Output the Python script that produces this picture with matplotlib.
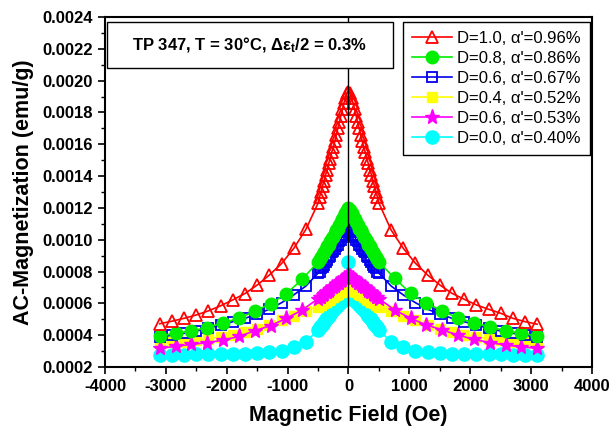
import matplotlib
matplotlib.use("Agg")
import matplotlib.pyplot as plt
from matplotlib.patches import Rectangle

plt.rcParams['font.family'] = ['Liberation Sans', 'DejaVu Sans']
plt.rcParams['mathtext.fontset'] = 'custom'
plt.rcParams['mathtext.rm'] = 'Liberation Sans:bold'
plt.rcParams['mathtext.it'] = 'Liberation Sans:bold'
plt.rcParams['mathtext.bf'] = 'Liberation Sans:bold'

# ---------------- data ----------------
X_200_L = [-3100, -2900, -2700, -2500, -2300, -2100, -1900, -1700, -1500, -1300, -1100, -900, -700]
X_200_R = [700, 900, 1100, 1300, 1500, 1700, 1900, 2100, 2300, 2500, 2700, 2900, 3100]
X_260_L = [-3100, -2840, -2580, -2320, -2060, -1800, -1540, -1280, -1020, -760]
X_260_R = [760, 1020, 1280, 1540, 1800, 2060, 2320, 2580, 2840, 3100]
X_DENSE = [-500, -475, -450, -425, -400, -375, -350, -325, -300, -275, -250, -225, -200,
           -175, -150, -125, -100, -75, -50, -25, 0, 25, 50, 75, 100, 125, 150, 175, 200,
           225, 250, 275, 300, 325, 350, 375, 400, 425, 450, 475, 500]

red_sparse_L = [0.000472, 0.000488, 0.000506, 0.000527, 0.000553, 0.000585, 0.000622,
                0.000662, 0.000715, 0.000778, 0.000850, 0.000945, 0.001065]
red_dense = [0.00123, 0.00127, 0.00130, 0.00134, 0.00137, 0.00141, 0.00144, 0.00148, 0.00151,
             0.00155, 0.00158, 0.00162, 0.00166, 0.00170, 0.00174, 0.00178, 0.00182, 0.00186,
             0.00189, 0.00192, 0.00193, 0.00192, 0.00189, 0.00186, 0.00182, 0.00178, 0.00174,
             0.00170, 0.00166, 0.00162, 0.00158, 0.00155, 0.00151, 0.00148, 0.00144, 0.00141,
             0.00137, 0.00134, 0.00130, 0.00127, 0.00123]
red_sparse_R = [0.001061, 0.000946, 0.000852, 0.000778, 0.000716, 0.000663, 0.000626,
                0.000590, 0.000563, 0.000538, 0.000506, 0.000485, 0.000469]

green_sparse_L = [0.000395, 0.000412, 0.000427, 0.000448, 0.000477, 0.000506, 0.000551,
                  0.000598, 0.000661, 0.000752]
green_dense = [0.00086, 0.00088, 0.00089, 0.00091, 0.00092, 0.00094, 0.00096, 0.00097, 0.00099,
               0.00101, 0.00102, 0.00104, 0.00106, 0.00107, 0.00109, 0.00111, 0.00113, 0.00115,
               0.00117, 0.00119, 0.00120, 0.00119, 0.00117, 0.00115, 0.00113, 0.00111, 0.00109,
               0.00107, 0.00106, 0.00104, 0.00102, 0.00101, 0.00099, 0.00097, 0.00096, 0.00094,
               0.00092, 0.00091, 0.00089, 0.00088, 0.00086]
green_sparse_R = [0.000757, 0.000663, 0.000600, 0.000554, 0.000506, 0.000479, 0.000450,
                  0.000429, 0.000412, 0.000395]

blue_sparse_L = [0.000387, 0.000400, 0.000412, 0.000426, 0.000443, 0.000464, 0.000485,
                 0.000506, 0.000533, 0.000563, 0.000604, 0.000653, 0.000709]
blue_dense = [0.00079, 0.00080, 0.00082, 0.00083, 0.00084, 0.00086, 0.00087, 0.00089, 0.00090,
              0.00092, 0.00093, 0.00094, 0.00096, 0.00097, 0.00099, 0.00100, 0.00102, 0.00103,
              0.00105, 0.00106, 0.00107, 0.00106, 0.00105, 0.00103, 0.00102, 0.00100, 0.00099,
              0.00097, 0.00096, 0.00094, 0.00093, 0.00092, 0.00090, 0.00089, 0.00087, 0.00086,
              0.00084, 0.00083, 0.00082, 0.00080, 0.00079]
blue_sparse_R = [0.000709, 0.000653, 0.000604, 0.000563, 0.000533, 0.000506, 0.000485,
                 0.000464, 0.000443, 0.000426, 0.000412, 0.000400, 0.000387]

yellow_sparse_L = [0.000350, 0.000355, 0.000360, 0.000368, 0.000378, 0.000390, 0.000404,
                   0.000420, 0.000440, 0.000465, 0.000493, 0.000523, 0.000553]
yellow_dense = [0.00058, 0.00059, 0.00059, 0.00060, 0.00061, 0.00061, 0.00062, 0.00062, 0.00063,
                0.00064, 0.00064, 0.00065, 0.00065, 0.00066, 0.00067, 0.00067, 0.00068, 0.00068,
                0.00069, 0.00070, 0.00070, 0.00070, 0.00069, 0.00068, 0.00068, 0.00067, 0.00067,
                0.00066, 0.00065, 0.00065, 0.00064, 0.00064, 0.00063, 0.00062, 0.00062, 0.00061,
                0.00061, 0.00060, 0.00059, 0.00059, 0.00058]
yellow_sparse_R = [0.000553, 0.000523, 0.000493, 0.000465, 0.000440, 0.000420, 0.000404,
                   0.000390, 0.000378, 0.000368, 0.000360, 0.000355, 0.000350]

magenta_sparse_L = [0.000317, 0.000330, 0.000342, 0.000353, 0.000369, 0.000392, 0.000428,
                    0.000460, 0.000506, 0.000558]
magenta_dense = [0.00063, 0.00064, 0.00064, 0.00065, 0.00066, 0.00067, 0.00067, 0.00068, 0.00069,
                 0.00070, 0.00070, 0.00071, 0.00072, 0.00073, 0.00073, 0.00074, 0.00075, 0.00076,
                 0.00076, 0.00077, 0.00078, 0.00077, 0.00076, 0.00076, 0.00075, 0.00074, 0.00073,
                 0.00073, 0.00072, 0.00071, 0.00070, 0.00070, 0.00069, 0.00068, 0.00067, 0.00067,
                 0.00066, 0.00065, 0.00064, 0.00064, 0.00063]
magenta_sparse_R = [0.000558, 0.000506, 0.000464, 0.000433, 0.000400, 0.000374, 0.000353,
                    0.000338, 0.000327, 0.000317]

cyan_sparse_L = [0.000278, 0.000278, 0.000278, 0.000279, 0.000280, 0.000280, 0.000281,
                 0.000283, 0.000287, 0.000293, 0.000303, 0.000325, 0.000360]
cyan_dense = [0.00043, 0.00045, 0.00046, 0.00047, 0.000485, 0.00050, 0.00051, 0.00052, 0.000535,
              0.00055, 0.00056, 0.00057, 0.00058, 0.00059, 0.00060, 0.00061, 0.00062, 0.000625,
              0.00063, 0.00065, 0.00086, 0.00065, 0.00063, 0.000625, 0.00062, 0.00061, 0.00060,
              0.00059, 0.00058, 0.00057, 0.00056, 0.00055, 0.000535, 0.00052, 0.00051, 0.00050,
              0.000485, 0.00047, 0.00046, 0.00045, 0.00043]
cyan_sparse_R = [0.000360, 0.000325, 0.000303, 0.000293, 0.000287, 0.000283, 0.000281,
                 0.000280, 0.000280, 0.000279, 0.000278, 0.000278, 0.000278]

labels = ["D=1.0, α'=0.96%", "D=0.8, α'=0.86%", "D=0.6, α'=0.67%",
          "D=0.4, α'=0.52%", "D=0.6, α'=0.53%", "D=0.0, α'=0.40%"]

XTICKS = [-4000, -3000, -2000, -1000, 0, 1000, 2000, 3000, 4000]
YTICKS = [0.0002, 0.0004, 0.0006, 0.0008, 0.0010, 0.0012, 0.0014, 0.0016, 0.0018,
          0.0020, 0.0022, 0.0024]

series = [
    (X_200_L + X_DENSE + X_200_R, red_sparse_L + red_dense + red_sparse_R,
     dict(color='red', marker='^', ms=9, mfc='none', mec='red', mew=1.3), 8),
    (X_260_L + X_DENSE + X_260_R, green_sparse_L + green_dense + green_sparse_R,
     dict(color='#00ee00', marker='o', ms=9, mfc='#00ee00', mec='#00ee00'), 7),
    (X_200_L + X_DENSE + X_200_R, blue_sparse_L + blue_dense + blue_sparse_R,
     dict(color='#0000ee', marker='s', ms=7, mfc='none', mec='#0000ee', mew=1.3), 6),
    (X_200_L + X_DENSE + X_200_R, yellow_sparse_L + yellow_dense + yellow_sparse_R,
     dict(color='#ffff00', marker='s', ms=7, mfc='#ffff00', mec='#ffff00'), 4),
    (X_260_L + X_DENSE + X_260_R, magenta_sparse_L + magenta_dense + magenta_sparse_R,
     dict(color='#ff00ff', marker='*', ms=11, mfc='#ff00ff', mec='#ff00ff'), 5),
    (X_200_L + X_DENSE + X_200_R, cyan_sparse_L + cyan_dense + cyan_sparse_R,
     dict(color='#00ffff', marker='o', ms=9.5, mfc='#00ffff', mec='#00ffff'), 3),
]

# ---------------- figure ----------------
fig = plt.figure(figsize=(6.12, 4.32), dpi=100)
ax = fig.add_axes([105 / 612, 1 - 367 / 432, (592 - 105) / 612, (367 - 17) / 432])

handles = []
for (xs, ys, st, z), lab in zip(series, labels):
    h, = ax.plot(xs, ys, lw=1.2, label=lab, zorder=z, **st)
    handles.append(h)

ax.axvline(0, color='black', lw=1.0, zorder=10)

ax.set_xlim(-4000, 4000)
ax.set_ylim(0.0002, 0.0024)
ax.set_xticks(XTICKS)
ax.set_xticklabels([str(v) for v in XTICKS])
ax.set_yticks(YTICKS)
ax.set_yticklabels([f"{v:.4f}" for v in YTICKS])
ax.set_xticks([-3500, -2500, -1500, -500, 500, 1500, 2500, 3500], minor=True)
ax.set_yticks([0.0003 + 0.0002 * i for i in range(11)], minor=True)

ax.tick_params(axis='both', which='major', direction='out', length=5, width=1.2,
               labelsize=12, top=False, right=False)
ax.tick_params(axis='both', which='minor', direction='out', length=3, width=1.0,
               top=False, right=False)
for lab in ax.get_xticklabels() + ax.get_yticklabels():
    lab.set_fontweight('bold')
for sp in ax.spines.values():
    sp.set_linewidth(1.5)

ax.set_xlabel('Magnetic Field (Oe)', fontsize=15.5, fontweight='bold', labelpad=8)
ax.set_ylabel('AC-Magnetization (emu/g)', fontsize=15.5, fontweight='bold', labelpad=6)

# title box
ax.add_patch(Rectangle((0.004, 0.854), 0.587, 0.132, transform=ax.transAxes,
                       fill=True, facecolor='white', edgecolor='black', lw=1.0, zorder=11))
ax.text(0.2975, 0.92, 'TP 347, T = 30°C, Δε$_t$/2 = 0.3%', transform=ax.transAxes,
        ha='center', va='center', fontsize=12, fontweight='bold', zorder=12)

leg = ax.legend(handles=handles, loc='upper right', bbox_to_anchor=(0.996, 0.986),
                borderaxespad=0, fontsize=12, frameon=True, fancybox=False,
                edgecolor='black', framealpha=1, handlelength=2.4, labelspacing=0.3,
                handletextpad=0.3, borderpad=0.55)
leg.get_frame().set_linewidth(1.0)
leg.set_zorder(12)

fig.savefig('out.png', dpi=100)
